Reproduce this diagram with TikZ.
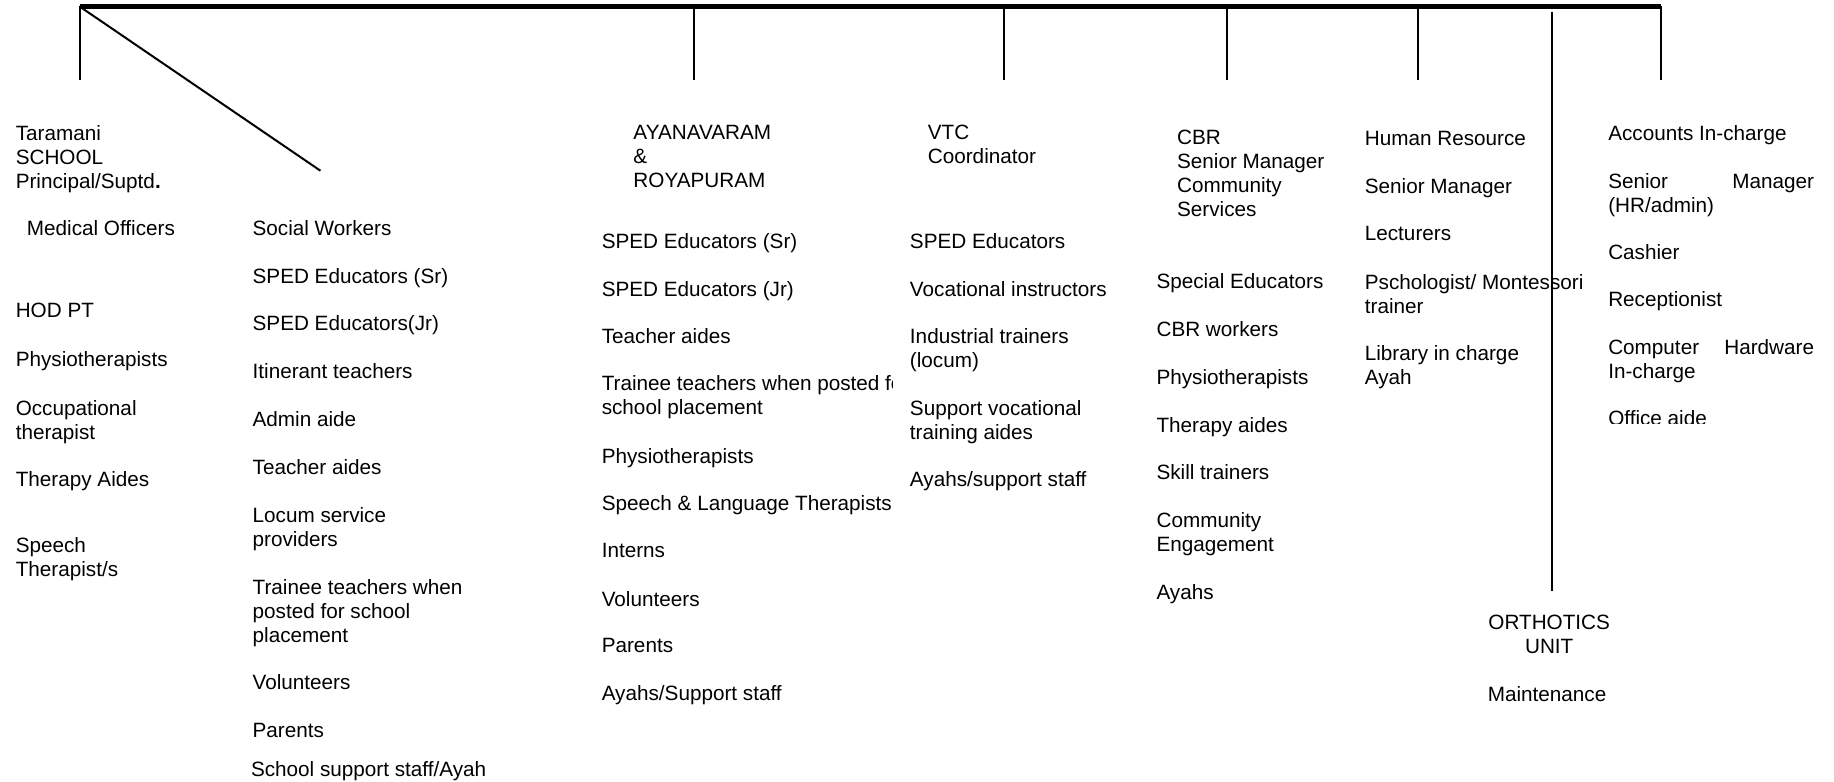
\documentclass[tikz,border=0pt]{standalone}
\usepackage{fontspec}
\setmainfont{Liberation Sans}
\tikzset{
  lbl/.style={inner sep=0pt, outer sep=0pt, anchor=north west, align=left,
              font=\fontsize{10.35pt}{12pt}\selectfont},
  clbl/.style={lbl, anchor=north, align=center},
  heavybar/.style={line width=2.3pt},
  drop/.style={line width=1pt},
}
\newlength{\jw}
\setlength{\jw}{102.9pt}
\begin{document}
\begin{tikzpicture}[x=0.5848pt, y=-0.5848pt]
\useasboundingbox (0,0) rectangle (1568,668);

% ---------- connectors ----------
\coordinate (bL) at (68,5.5);
\coordinate (bR) at (1420,5.5);
\coordinate (bA) at (593,5.5);
\coordinate (bB) at (858,5.5);
\coordinate (bC) at (1049,5.5);
\coordinate (bD) at (1212,5.5);
\coordinate (eL) at (68,68);
\coordinate (eA) at (593,68);
\coordinate (eB) at (858,68);
\coordinate (eC) at (1049,68);
\coordinate (eD) at (1212,68);
\coordinate (eR) at (1420,68);
\coordinate (dg) at (274,146);
\coordinate (oT) at (1327,10);
\coordinate (oB) at (1327,505);

\draw[heavybar] (bL) -- (bR);
\draw[drop] (bL) -- (eL);
\draw[drop] (bL) -- (dg);
\draw[drop] (bA) -- (eA);
\draw[drop] (bB) -- (eB);
\draw[drop] (bC) -- (eC);
\draw[drop] (bD) -- (eD);
\draw[drop] (bR) -- (eR);
\draw[drop] (oT) -- (oB);

% ---------- column A ----------
\node[lbl] (tar) at (13.5,107.5) {Taramani\\SCHOOL\\Principal/Suptd\textbf{.}};
\node[lbl] (a1) at (23,188.5) {Medical Officers};
\node[lbl] (a2) at (13.5,259.5) {HOD PT};
\node[lbl] (a3) at (13.5,300.5) {Physiotherapists};
\node[lbl] (a4) at (13.5,342.5) {Occupational\\therapist};
\node[lbl] (a5) at (13.5,403.5) {Therapy Aides};
\node[lbl] (a6) at (13.5,459.5) {Speech\\Therapist/s};

% ---------- column B ----------
\node[lbl] (b1) at (216,188.5) {Social Workers};
\node[lbl] (b2) at (216,229.5) {SPED Educators (Sr)};
\node[lbl] (b3) at (216,270) {SPED Educators(Jr)};
\node[lbl] (b4) at (216,311) {Itinerant teachers};
\node[lbl] (b5) at (216,352) {Admin aide};
\node[lbl] (b6) at (216,392.5) {Teacher aides};
\node[lbl] (b7) at (216,433.5) {Locum service\\providers};
\node[lbl] (b8) at (216,495.5) {Trainee teachers when\\posted for school\\placement};
\node[lbl] (b9) at (216,577) {Volunteers};
\node[lbl] (b10) at (216,618.5) {Parents};
\node[lbl] (b11) at (214.6,650.8) {School support staff/Ayah};

% ---------- column C ----------
\node[lbl] (ayn) at (541.6,107) {AYANAVARAM\\\&\\ROYAPURAM};
\node[lbl] (c1) at (514.5,199.5) {SPED Educators (Sr)};
\node[lbl] (c2) at (514.5,240.8) {SPED Educators (Jr)};
\node[lbl] (c3) at (514.5,280.8) {Teacher aides};
\begin{scope}
\clip (505,300) rectangle (763,365);
\node[lbl] (c4) at (514.5,321.2) {Trainee teachers when posted for\\school placement};
\end{scope}
\node[lbl] (c5) at (514.5,383.4) {Physiotherapists};
\node[lbl] (c6) at (514.5,423.9) {Speech \& Language Therapists};
\node[lbl] (c7) at (514.5,464.6) {Interns};
\node[lbl] (c8) at (514.5,505.6) {Volunteers};
\node[lbl] (c9) at (514.5,545.8) {Parents};
\node[lbl] (c10) at (514.5,586.3) {Ayahs/Support staff};

% ---------- column D ----------
\node[lbl] (vtc) at (793.3,107) {VTC\\Coordinator};
\node[lbl] (d1) at (778,199.5) {SPED Educators};
\node[lbl] (d2) at (778,240.8) {Vocational instructors};
\node[lbl] (d3) at (778,280.8) {Industrial trainers\\(locum)};
\node[lbl] (d4) at (778,342.6) {Support vocational\\training aides};
\node[lbl] (d5) at (778,403) {Ayahs/support staff};

% ---------- column E ----------
\node[lbl] (cbr) at (1006.4,111) {CBR\\Senior Manager\\Community\\Services};
\node[lbl] (e1) at (988.8,233.8) {Special Educators};
\node[lbl] (e2) at (988.8,275.1) {CBR workers};
\node[lbl] (e3) at (988.8,316.1) {Physiotherapists};
\node[lbl] (e4) at (988.8,356.9) {Therapy aides};
\node[lbl] (e5) at (988.8,397.3) {Skill trainers};
\node[lbl] (e6) at (988.8,438.1) {Community\\Engagement};
\node[lbl] (e7) at (988.8,499.9) {Ayahs};

% ---------- column F ----------
\node[lbl] (hr) at (1166.9,111.8) {Human Resource};
\node[lbl] (f1) at (1166.9,152.5) {Senior Manager};
\node[lbl] (f2) at (1166.9,193.8) {Lecturers};
\node[lbl] (f3) at (1166.9,234.3) {Pschologist/ Montessori\\trainer};
\node[lbl] (f4) at (1166.9,295.5) {Library in charge\\Ayah};

% ---------- column G ----------
\node[lbl] (acc) at (1375,106.9) {Accounts In-charge};
\node[lbl] (g1) at (1375,148) {\makebox[\jw][s]{Senior Manager}\\(HR/admin)};
\node[lbl] (g2) at (1375,208.7) {Cashier};
\node[lbl] (g3) at (1375,249.1) {Receptionist};
\node[lbl] (g4) at (1375,290.5) {\makebox[\jw][s]{Computer Hardware}\\In-charge};
\begin{scope}
\clip (1365,340) rectangle (1600,362.3);
\node[lbl] (g5) at (1375,351.2) {Office aide};
\end{scope}

% ---------- orthotics ----------
\node[clbl] (orth) at (1324.5,526) {ORTHOTICS\\UNIT};
\node[lbl] (m1) at (1272,586.9) {Maintenance};
\end{tikzpicture}
\end{document}
